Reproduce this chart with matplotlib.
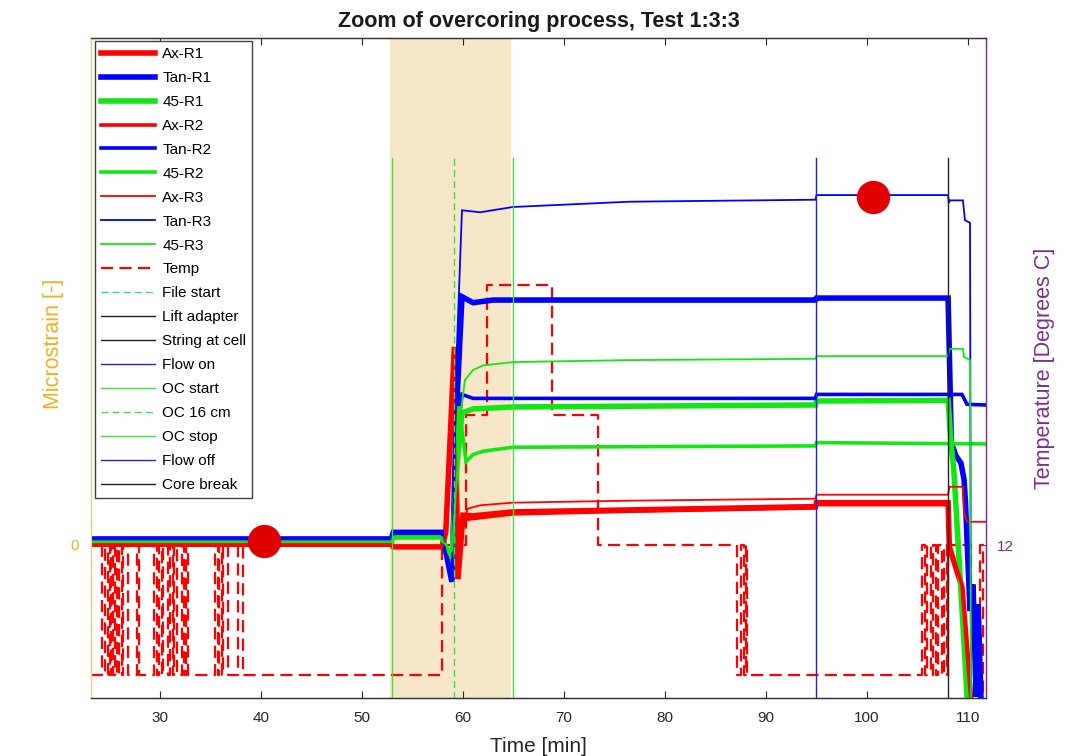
import matplotlib
matplotlib.use("Agg")
import matplotlib.pyplot as plt

plt.rcParams['font.family'] = ['Liberation Sans', 'DejaVu Sans']

# ---------------------------------------------------------------- data
t_view = [23.17, 111.78]          # visible time window [min]
strain_lim = [-232, 768]          # microstrain range of the left axis
temp_lim = [11.8823, 12.39]       # degrees C range of the right axis

# strain gauges, rosette 1 (thick), 2 (medium), 3 (thin)
ax_r1_t = [23.17, 52.9, 53.1, 57.9, 58.3, 59.15, 59.5, 60.0, 61.0, 64.95, 76.5, 94.9, 95.0, 108.03, 108.15, 109.4, 110.3, 111.78]
ax_r1_v = [1, 1, -3, -3, 20, 300, -52, 45, 44, 50, 53, 58, 64, 64, -3, -64, -240, -240]
ax_r2_t = ax_r1_t
ax_r2_v = [1, 1, -3, -3, 15, 260, -45, 38, 40, 47, 51, 56, 61, 61, 0, -60, -240, -240]
ax_r3_t = [23.17, 52.9, 53.1, 57.9, 58.3, 59.15, 59.5, 60.0, 60.5, 61.7, 64.95, 76.5, 94.9, 95.0, 108.03, 108.15, 109.5, 109.6, 109.9, 111.78]
ax_r3_v = [1, 1, -2, -2, 10, 220, -40, 38, 55, 60, 64, 67, 70, 76, 76, 88, 88, 50, 35, 35]

tan_r1_t = [23.17, 52.9, 53.1, 57.9, 58.1, 58.9, 59.35, 59.9, 61.0, 63.0, 94.9, 95.0, 108.03, 108.35, 108.8, 109.3, 109.6, 109.75, 110.2, 110.5, 110.8, 111.0, 111.3, 111.78]
tan_r1_v = [9, 9, 19, 19, 5, -56, 200, 376, 367, 371, 371, 374, 374, 155, 135, 124, 100, 65, -100, -60, -230, -90, -240, -240]
tan_r2_t = [23.17, 52.9, 53.1, 57.9, 58.1, 58.9, 59.35, 59.9, 61.0, 94.9, 95.0, 109.4, 109.9, 111.78]
tan_r2_v = [8, 8, 17, 17, 4, -50, 150, 228, 222, 222, 228, 228, 213, 212]
tan_r3_t = [23.17, 52.9, 53.1, 57.9, 58.1, 58.9, 59.4, 59.9, 61.7, 64.95, 76.5, 94.9, 95.0, 108.03, 108.1, 108.2, 109.5, 109.7, 110.2, 110.3, 111.78]
tan_r3_v = [8, 8, 17, 17, 4, -54, 300, 507, 504, 512, 520, 523, 530, 530, 518, 522, 522, 492, 488, -260, -260]

d45_r1_t = [23.17, 52.9, 53.1, 57.9, 58.1, 58.9, 59.4, 59.9, 61.0, 64.95, 94.9, 95.0, 108.03, 108.35, 108.6, 109.95, 111.78]
d45_r1_v = [5, 5, 12, 12, 3, -25, 120, 200, 206, 209, 212, 218, 219, 150, 113, -240, -240]
d45_r2_t = [23.17, 52.9, 53.1, 57.9, 58.1, 58.9, 59.6, 60.3, 61.0, 62.0, 64.95, 94.9, 95.0, 111.78]
d45_r2_v = [5, 5, 12, 12, 3, -20, 210, 126, 137, 142, 148, 150, 155, 153]
d45_r3_t = [23.17, 52.9, 53.1, 57.9, 58.1, 58.9, 59.6, 59.8, 60.2, 61.0, 62.0, 64.95, 76.5, 94.9, 95.0, 108.03, 108.15, 109.5, 109.6, 110.2, 110.3, 111.78]
d45_r3_v = [5, 5, 12, 12, 3, -10, 150, 205, 250, 265, 272, 277, 280, 282, 286, 286, 297, 297, 285, 280, -240, -240]

# borehole water temperature (sensor steps of 0.1 degC)
temp_t = [23.17, 24.23, 24.55, 24.88, 25.10, 25.20, 25.38, 25.54, 25.78, 25.95,
          26.21, 26.37, 26.86, 27.69, 27.95, 29.41, 29.70, 29.88, 30.17, 30.33,
          30.82, 30.99, 31.25, 31.40, 31.65, 32.15, 32.42, 32.56, 32.80, 35.45,
          35.72, 35.86, 36.11, 36.27, 36.76, 37.75, 38.25, 57.89, 60.30, 62.35,
          68.78, 73.40, 87.16, 87.50, 87.82, 87.98, 88.15, 105.45, 105.75, 105.95,
          106.30, 106.50, 106.85, 107.05, 107.40, 107.60, 107.90, 108.00, 110.25, 111.20,
          111.45, 111.78]
temp_v = [11.9, 12.0, 11.9, 12.0, 11.9, 12.0, 11.9, 12.0, 11.9, 12.0,
          11.9, 12.0, 11.9, 12.0, 11.9, 12.0, 11.9, 12.0, 11.9, 12.0,
          11.9, 12.0, 11.9, 12.0, 11.9, 12.0, 11.9, 12.0, 11.9, 12.0,
          11.9, 12.0, 11.9, 12.0, 11.9, 12.0, 11.9, 12.0, 12.1, 12.2,
          12.1, 12.0, 11.9, 12.0, 11.9, 12.0, 11.9, 12.0, 11.9, 12.0,
          11.9, 12.0, 11.9, 12.0, 11.9, 12.0, 11.9, 12.0, 11.8, 12.0,
          11.8, 11.8]

# logged events [min]
event_names = ['File start', 'Lift adapter', 'String at cell', 'Flow on',
               'OC start', 'OC 16 cm', 'OC stop', 'Flow off', 'Core break']
event_times = [4.0, 9.0, 14.5, 19.0, 52.94, 59.09, 64.96, 94.93, 108.03]
event_span = [-300, 586]          # microstrain extent of the event markers

# overcoring window and highlighted readings
oc_window = [52.8, 64.8]
dot_t = [40.3, 100.6]
dot_v = [6, 527]

# ---------------------------------------------------------------- styling
RED, BLUE, GREEN = '#FF0000', '#0000FF', '#14E614'
YEL, PURP = '#EDB120', '#7E2F8E'
series = [
    ('Ax-R1', ax_r1_t, ax_r1_v, RED, 4.0),
    ('Tan-R1', tan_r1_t, tan_r1_v, BLUE, 4.0),
    ('45-R1', d45_r1_t, d45_r1_v, GREEN, 4.0),
    ('Ax-R2', ax_r2_t, ax_r2_v, RED, 2.6),
    ('Tan-R2', tan_r2_t, tan_r2_v, BLUE, 2.6),
    ('45-R2', d45_r2_t, d45_r2_v, GREEN, 2.6),
    ('Ax-R3', ax_r3_t, ax_r3_v, RED, 1.3),
    ('Tan-R3', tan_r3_t, tan_r3_v, BLUE, 1.3),
    ('45-R3', d45_r3_t, d45_r3_v, GREEN, 1.3),
]
event_style = {
    'File start': ('#30C8C8', (0, (5, 3))),
    'Lift adapter': ('#222222', '-'),
    'String at cell': ('#222222', '-'),
    'Flow on': ('#2020E0', '-'),
    'OC start': ('#40E040', '-'),
    'OC 16 cm': ('#40E040', (0, (5, 3))),
    'OC stop': ('#40E040', '-'),
    'Flow off': ('#2020E0', '-'),
    'Core break': ('#222222', '-'),
}

fig = plt.figure(figsize=(10.73, 7.56), dpi=100, facecolor='white')
ax_s = fig.add_axes([0.0848, 0.0767, 0.8341, 0.8730])
ax_t = ax_s.twinx()
ax_t.set_zorder(0)
ax_s.set_zorder(1)
ax_s.patch.set_visible(False)

# temperature axis (underneath)
ax_t.axvspan(oc_window[0], oc_window[1], color='#F6E7C9', lw=0, zorder=0)
temp_line, = ax_t.plot(temp_t, temp_v, color=RED, lw=1.6, ls=(0, (5.5, 2.8)),
                       drawstyle='steps-post', label='Temp')
ax_t.set_ylim(temp_lim)
ax_t.set_yticks([12])
ax_t.set_yticklabels(['12'])
ax_t.tick_params(axis='y', colors=PURP, direction='in', length=4, labelsize=11, pad=8)
ax_t.set_ylabel('Temperature [Degrees C]', color=PURP, fontsize=15.5)
ax_t.yaxis.set_label_coords(1.054, 0.5)

# strain axis (on top)
handles = []
for name, t, v, c, lw in series:
    h, = ax_s.plot(t, v, color=c, lw=lw, label=name, solid_joinstyle='miter')
    handles.append(h)
handles.append(temp_line)
for name, t in zip(event_names, event_times):
    c, ls = event_style[name]
    h, = ax_s.plot([t, t], event_span, color=c, lw=1.0, ls=ls, label=name)
    handles.append(h)
ax_s.plot(dot_t, dot_v, 'o', ms=23, color='#E00000', mec='#E00000')

ax_s.set_xlim(t_view)
ax_s.set_ylim(strain_lim)
ax_s.set_xticks(range(30, 111, 10))
ax_s.set_yticks([0])
ax_s.tick_params(axis='x', direction='in', top=True, length=5, labelsize=11,
                 colors='#262626', pad=9)
ax_s.tick_params(axis='y', colors=YEL, direction='in', length=4, labelsize=11, pad=9)
ax_s.set_xlabel('Time [min]', fontsize=15, color='#262626', labelpad=9)
ax_s.set_ylabel('Microstrain [-]', color=YEL, fontsize=15.5)
ax_s.yaxis.set_label_coords(-0.030, 0.536)
ax_s.set_title('Zoom of overcoring process, Test 1:3:3', fontsize=15.5,
               fontweight='bold', color='#1a1a1a', pad=8)

for a in (ax_s, ax_t):
    a.spines['left'].set_color('#EDC98A')
    a.spines['right'].set_color(PURP)
    a.spines['top'].set_color('#333333')
    a.spines['bottom'].set_color('#333333')
    for s in a.spines.values():
        s.set_linewidth(0.9)

leg = ax_s.legend(handles=handles, loc='upper left', bbox_to_anchor=(0.0045, 0.9955),
                  borderaxespad=0, fancybox=False, framealpha=1, edgecolor='#404040',
                  fontsize=11, handlelength=3.5, handletextpad=0.5,
                  labelspacing=0.65, borderpad=0.4)
leg.get_frame().set_linewidth(1.0)

fig.savefig('out.png', dpi=100, facecolor='white')
